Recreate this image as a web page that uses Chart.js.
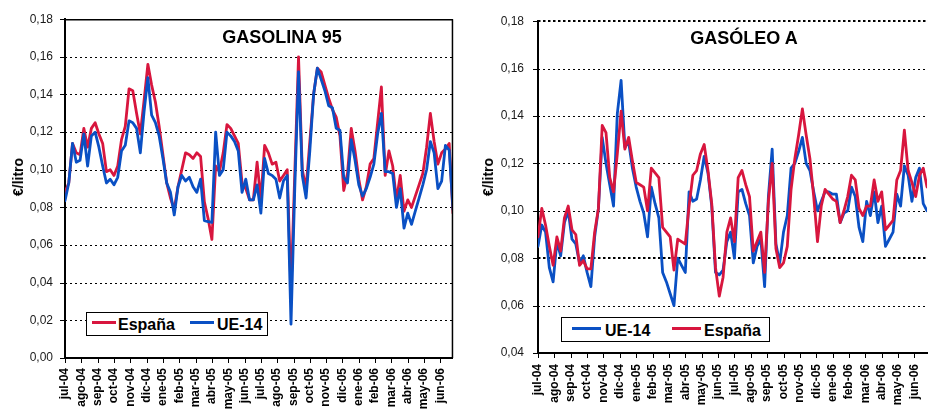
<!DOCTYPE html>
<html><head><meta charset="utf-8">
<script src="https://cdn.jsdelivr.net/npm/chart.js@4.4.1/dist/chart.umd.min.js"></script>
<style>
html,body{margin:0;padding:0;background:#fff;}
body{width:930px;height:415px;overflow:hidden;position:relative;font-family:'Liberation Sans',Arial,sans-serif;color:#000;}
.pane{position:absolute;top:0;height:415px;}
canvas{display:block;}
.title{position:absolute;font-weight:bold;font-size:18px;line-height:18px;white-space:nowrap;transform:translateX(-50%);}
.ytitle{position:absolute;font-weight:bold;font-size:14px;line-height:14px;white-space:nowrap;transform:translate(-50%,-50%) rotate(-90deg);}
.legend{position:absolute;border:1px solid #000;background:#fff;box-sizing:border-box;}
.legend .sw{position:absolute;height:3px;}
.legend .tx{position:absolute;font-weight:bold;font-size:16px;line-height:16px;white-space:nowrap;}
</style>
</head><body>
<div class="pane" style="left:0;width:465px;"><canvas id="c1" width="465" height="415"></canvas></div>
<div class="pane" style="left:465px;width:475px;"><canvas id="c2" width="475" height="415"></canvas></div>

<div class="title" style="left:282px;top:28px;">GASOLINA 95</div>
<div class="title" style="left:744px;top:29px;">GASÓLEO A</div>
<div class="ytitle" style="left:18px;top:177px;">€/litro</div>
<div class="ytitle" style="left:488px;top:177px;">€/litro</div>

<div class="legend" style="left:86px;top:312px;width:182px;height:24px;">
  <div class="sw" style="left:5px;top:8px;width:24px;background:#D8163E;"></div>
  <div class="tx" style="left:31px;top:4px;">España</div>
  <div class="sw" style="left:103px;top:8px;width:24px;background:#0A50C4;"></div>
  <div class="tx" style="left:130px;top:4px;">UE-14</div>
</div>
<div class="legend" style="left:561px;top:317px;width:209px;height:25px;">
  <div class="sw" style="left:10px;top:9px;width:29px;background:#0A50C4;"></div>
  <div class="tx" style="left:43px;top:5px;">UE-14</div>
  <div class="sw" style="left:110px;top:9px;width:29px;background:#D8163E;"></div>
  <div class="tx" style="left:142px;top:5px;">España</div>
</div>

<script>
// Month tick labels (one per month, jul-04 .. jun-06)
const months = ['jul-04','ago-04','sep-04','oct-04','nov-04','dic-04','ene-05','feb-05','mar-05','abr-05','may-05','jun-05',
                'jul-05','ago-05','sep-05','oct-05','nov-05','dic-05','ene-06','feb-06','mar-06','abr-06','may-06','jun-06'];

// Weekly series (€/litro), first week = early jul-04
const gasEsp = [0.088,0.093,0.114,0.109,0.108,0.122,0.112,0.122,0.125,0.119,
 0.114,0.099,0.100,0.097,0.102,0.116,0.123,0.143,0.142,0.130,
 0.119,0.137,0.156,0.145,0.136,0.123,0.108,0.093,0.085,0.079,
 0.091,0.100,0.109,0.108,0.106,0.109,0.107,0.083,0.074,0.063,
 0.102,0.099,0.109,0.124,0.122,0.118,0.114,0.093,0.090,0.084,
 0.084,0.104,0.084,0.113,0.109,0.103,0.104,0.094,0.097,0.100,
 0.035,0.098,0.160,0.100,0.090,0.115,0.140,0.154,0.152,0.145,
 0.138,0.132,0.128,0.118,0.089,0.098,0.122,0.110,0.095,0.084,
 0.091,0.103,0.106,0.125,0.144,0.097,0.110,0.102,0.084,0.097,
 0.078,0.084,0.080,0.086,0.092,0.098,0.112,0.130,0.115,0.103,
 0.109,0.111,0.114,0.077];

const gasUE = [0.0835,0.093,0.114,0.104,0.105,0.119,0.102,0.118,0.120,0.112,
 0.102,0.093,0.095,0.092,0.096,0.110,0.113,0.126,0.125,0.122,
 0.109,0.131,0.149,0.129,0.125,0.118,0.106,0.093,0.088,0.076,
 0.091,0.097,0.094,0.096,0.091,0.088,0.095,0.073,0.0725,0.072,
 0.120,0.097,0.100,0.120,0.118,0.115,0.110,0.088,0.095,0.084,
 0.084,0.092,0.077,0.106,0.098,0.097,0.095,0.085,0.094,0.097,
 0.018,0.090,0.152,0.097,0.085,0.110,0.140,0.154,0.148,0.142,
 0.134,0.133,0.122,0.121,0.096,0.093,0.116,0.105,0.092,0.086,
 0.090,0.096,0.103,0.119,0.130,0.099,0.099,0.098,0.080,0.090,
 0.069,0.077,0.071,0.078,0.085,0.092,0.100,0.115,0.109,0.090,
 0.094,0.113,0.1105,0.079];

const dieEsp = [0.089,0.101,0.094,0.085,0.077,0.089,0.083,0.097,0.102,0.092,
 0.090,0.077,0.079,0.0755,0.0755,0.091,0.101,0.136,0.133,0.114,
 0.108,0.124,0.142,0.126,0.131,0.121,0.112,0.111,0.110,0.100,
 0.118,0.116,0.114,0.093,0.091,0.089,0.075,0.088,0.087,0.086,
 0.102,0.115,0.117,0.124,0.128,0.117,0.103,0.076,0.064,0.072,
 0.091,0.097,0.087,0.114,0.117,0.111,0.106,0.083,0.087,0.091,
 0.074,0.104,0.120,0.084,0.076,0.078,0.085,0.109,0.122,0.132,
 0.143,0.132,0.122,0.106,0.087,0.102,0.109,0.107,0.105,0.104,
 0.095,0.100,0.106,0.115,0.113,0.101,0.098,0.102,0.102,0.113,
 0.104,0.108,0.092,0.094,0.096,0.113,0.117,0.134,0.117,0.112,
 0.106,0.115,0.118,0.110];

const dieUE = [0.085,0.094,0.091,0.076,0.070,0.087,0.081,0.095,0.100,0.088,
 0.086,0.078,0.081,0.074,0.068,0.089,0.101,0.131,0.120,0.111,
 0.102,0.141,0.155,0.127,0.129,0.118,0.110,0.104,0.099,0.089,
 0.110,0.103,0.097,0.074,0.070,0.065,0.060,0.080,0.077,0.074,
 0.108,0.104,0.105,0.113,0.123,0.116,0.102,0.074,0.073,0.075,
 0.087,0.091,0.080,0.108,0.109,0.103,0.098,0.078,0.085,0.088,
 0.068,0.106,0.126,0.086,0.078,0.091,0.098,0.118,0.120,0.125,
 0.131,0.120,0.117,0.108,0.100,0.104,0.108,0.108,0.107,0.107,
 0.095,0.099,0.100,0.110,0.106,0.093,0.087,0.104,0.098,0.108,
 0.095,0.102,0.085,0.088,0.091,0.107,0.102,0.119,0.115,0.104,
 0.114,0.118,0.103,0.100];

const RED = '#D8163E', BLUE = '#0A50C4';
const FONT = "'Liberation Sans', Arial, sans-serif";
const WEEK_IN_MONTHS = 12 / 52;

function toPoints(arr) { return arr.map((v, i) => ({ x: i * WEEK_IN_MONTHS, y: v })); }
function fmt(v) { return v.toFixed(2).replace('.', ','); }

// dotted horizontal grid + tick marks + optional frame, all positioned from the chart's own scales
function decor(opt) {
  return {
    id: 'decor',
    beforeDatasetsDraw(chart) {
      const a = chart.chartArea, ctx = chart.ctx, y = chart.scales.y;
      ctx.save();
      ctx.strokeStyle = '#000';
      y.ticks.forEach(t => {
        if (Math.abs(t.value - y.min) < 1e-9) return;
        const bold = opt.boldAt && opt.boldAt.some(b => Math.abs(t.value - b) < 1e-6);
        const lw = bold ? 2 : 1;
        const py = Math.round(y.getPixelForValue(t.value)) + (bold ? 0 : 0.5);
        ctx.lineWidth = lw;
        ctx.setLineDash(bold ? [2.5, 2.5] : [2, 3]);
        ctx.beginPath(); ctx.moveTo(a.left, py); ctx.lineTo(a.right, py); ctx.stroke();
      });
      ctx.restore();
    },
    afterDraw(chart) {
      const a = chart.chartArea, ctx = chart.ctx, x = chart.scales.x, y = chart.scales.y;
      ctx.save();
      ctx.strokeStyle = '#000';
      ctx.setLineDash([]);
      ctx.lineWidth = 1;
      ctx.beginPath();
      y.ticks.forEach(t => {
        const py = Math.round(y.getPixelForValue(t.value)) + 0.5;
        ctx.moveTo(a.left - 5, py); ctx.lineTo(a.left, py);
      });
      x.ticks.forEach(t => {
        const px = Math.round(x.getPixelForValue(t.value)) + 0.5;
        ctx.moveTo(px, a.bottom); ctx.lineTo(px, a.bottom + 5);
      });
      ctx.stroke();
      if (opt.frame) {
        ctx.lineWidth = 1.5;
        ctx.beginPath();
        ctx.moveTo(a.left, a.top + 0.5); ctx.lineTo(a.right, a.top + 0.5);
        ctx.moveTo(a.right - 0.5, a.top); ctx.lineTo(a.right - 0.5, a.bottom);
        ctx.stroke();
      }
      ctx.restore();
    }
  };
}

function makeChart(id, datasets, opt) {
  const n = gasEsp.length;
  return new Chart(document.getElementById(id), {
    type: 'line',
    data: { datasets },
    options: {
      responsive: false,
      animation: false,
      events: [],
      layout: { padding: { top: opt.padTop, right: opt.padRight, left: 0, bottom: 0 } },
      plugins: { legend: { display: false }, tooltip: { enabled: false }, title: { display: false } },
      elements: { point: { radius: 0 }, line: { borderWidth: 2.8, tension: 0, borderJoinStyle: 'round', borderCapStyle: 'round' } },
      scales: {
        x: {
          type: 'linear', min: 0, max: (n - 1) * WEEK_IN_MONTHS,
          afterBuildTicks: s => { s.ticks = months.map((_, i) => ({ value: i })); },
          afterFit: s => { s.height = opt.xHeight; },
          grid: { display: true, drawOnChartArea: false, drawTicks: false },
          border: { display: true, color: '#000', width: 2 },
          ticks: {
            autoSkip: false, minRotation: 90, maxRotation: 90, padding: opt.xPad,
            color: '#000', font: { family: FONT, size: 12, weight: 'bold' },
            callback: v => months[v] !== undefined ? months[v] : ''
          }
        },
        y: {
          min: opt.yMin, max: 0.18,
          afterFit: s => { s.width = opt.yWidth; },
          grid: { display: true, drawOnChartArea: false, drawTicks: false },
          border: { display: true, color: '#000', width: 2 },
          ticks: { stepSize: 0.02, padding: opt.yPad, color: '#1a1a1a', font: { family: FONT, size: 12 }, callback: v => fmt(v) }
        }
      }
    },
    plugins: [decor(opt)]
  });
}

makeChart('c1', [
  { label: 'UE-14', data: toPoints(gasUE), borderColor: BLUE, backgroundColor: BLUE, fill: false },
  { label: 'España', data: toPoints(gasEsp), borderColor: RED, backgroundColor: RED, fill: false }
], { padTop: 14, padRight: 6, xHeight: 57, yWidth: 65, yMin: 0, xPad: 10, yPad: 12, frame: true, boldAt: null });

makeChart('c2', [
  { label: 'España', data: toPoints(dieEsp), borderColor: RED, backgroundColor: RED, fill: false },
  { label: 'UE-14', data: toPoints(dieUE), borderColor: BLUE, backgroundColor: BLUE, fill: false }
], { padTop: 11, padRight: 5, xHeight: 62, yWidth: 73, yMin: 0.04, xPad: 11, yPad: 14, frame: false, boldAt: [0.08, 0.18] });
</script>
</body></html>
